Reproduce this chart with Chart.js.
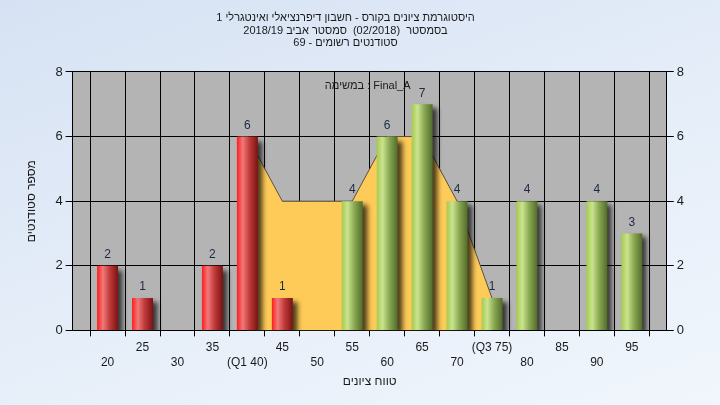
<!DOCTYPE html>
<html>
<head>
<meta charset="utf-8">
<script src="https://cdn.jsdelivr.net/npm/chart.js@4"></script>
<style>
  html, body { margin: 0; padding: 0; }
  body {
    width: 720px; height: 405px; overflow: hidden;
    background: linear-gradient(160deg, #d6e2f3 0%, #e6eef9 55%, #f1f6fc 100%);
  }
  canvas { display: block; }
</style>
</head>
<body>
<canvas id="chart" width="720" height="405"></canvas>
<script>
const categories = [20, 25, 30, 35, 40, 45, 50, 55, 60, 65, 70, 75, 80, 85, 90, 95];
const tickLabels = ['20', '25', '30', '35', '(Q1 40)', '45', '50', '55', '60', '65', '70', '(Q3 75)', '80', '85', '90', '95'];
const students = [2, 1, 0, 2, 6, 1, 0, 4, 6, 7, 4, 1, 4, 0, 4, 3];
const quartileBand = [null, null, null, null, 6, 4, 4, 4, 6, 6, 4, 1, null, null, null, null];
const passMark = 55;
const yTicks = [0, 2, 4, 6, 8];
const titleLines = [
  'היסטוגרמת ציונים בקורס - חשבון דיפרנציאלי ואינטגרלי 1',
  'בסמסטר  (02/2018)  סמסטר אביב 2018/19',
  'סטודנטים רשומים - 69'
];
const taskLabel = 'במשימה : Final_A';

const FONT = "'Liberation Sans', Arial, 'DejaVu Sans', sans-serif";
const BAR_PCT = 0.6;

// one empty slot each side so the axis runs 15..100
const labels = ['', ...tickLabels, ''];
const values = [null, ...students, null];
const band = [null, ...quartileBand, null];
const cats = [null, ...categories, null];

function barFill(c) {
  const chart = c.chart;
  const xs = chart.scales.x;
  const cat = cats[c.dataIndex];
  const pass = cat != null && cat >= passMark;
  const flat = pass ? '#9fc552' : '#e02020';
  if (!xs || !chart.chartArea || c.dataIndex == null) return flat;
  const cx = xs.getPixelForValue(c.dataIndex);
  const half = (xs.getPixelForValue(1) - xs.getPixelForValue(0)) * BAR_PCT / 2;
  const g = chart.ctx.createLinearGradient(cx - half, 0, cx + half, 0);
  if (pass) {
    g.addColorStop(0, '#a4cb4e');
    g.addColorStop(0.28, '#cbe38f');
    g.addColorStop(0.6, '#8aa952');
    g.addColorStop(1, '#526b2a');
  } else {
    g.addColorStop(0, '#ff1c1c');
    g.addColorStop(0.28, '#f07a7a');
    g.addColorStop(0.6, '#c03a3a');
    g.addColorStop(1, '#7a1212');
  }
  return g;
}

const plotBg = {
  id: 'plotBg',
  beforeDraw(chart) {
    const a = chart.chartArea, ctx = chart.ctx;
    ctx.save();
    ctx.fillStyle = '#b4b4b4';
    ctx.fillRect(a.left, a.top, a.right - a.left, a.bottom - a.top);
    ctx.restore();
  }
};

const barShadow = {
  id: 'barShadow',
  beforeDatasetDraw(chart, args) {
    if (args.meta.type !== 'bar') return;
    const ctx = chart.ctx;
    ctx.save();
    ctx.shadowColor = 'rgba(0,0,0,0.7)';
    ctx.shadowOffsetX = 5;
    ctx.shadowOffsetY = 4;
    ctx.shadowBlur = 5;
  },
  afterDatasetDraw(chart, args) {
    if (args.meta.type !== 'bar') return;
    chart.ctx.restore();
  }
};

const barValues = {
  id: 'barValues',
  afterDatasetsDraw(chart) {
    const ctx = chart.ctx;
    const meta = chart.getDatasetMeta(0);
    ctx.save();
    ctx.font = '12px ' + FONT;
    ctx.fillStyle = '#1c2a44';
    ctx.textAlign = 'center';
    ctx.textBaseline = 'middle';
    meta.data.forEach((el, i) => {
      const v = values[i];
      if (!v) return;
      ctx.fillText(String(v), el.x, el.y - 11);
    });
    const a = chart.chartArea;
    ctx.font = '11px ' + FONT;
    ctx.fillStyle = '#1a1a1a';
    ctx.fillText(taskLabel, (a.left + a.right) / 2 - 2, a.top + 14);
    ctx.restore();
  }
};

new Chart(document.getElementById('chart'), {
  data: {
    labels: labels,
    datasets: [
      {
        type: 'bar',
        label: 'students',
        data: values,
        backgroundColor: barFill,
        barPercentage: BAR_PCT,
        categoryPercentage: 1,
        order: 1
      },
      {
        type: 'line',
        label: 'Q1-Q3',
        data: band,
        fill: 'origin',
        backgroundColor: '#ffcb58',
        borderColor: '#5a5040',
        borderWidth: 1,
        pointRadius: 0,
        tension: 0,
        order: 2
      }
    ]
  },
  options: {
    responsive: false,
    animation: false,
    layout: { padding: { left: 4, right: 33, top: 0, bottom: 12 } },
    plugins: {
      legend: { display: false },
      tooltip: { enabled: false },
      title: {
        display: true,
        text: titleLines,
        color: '#1a1a1a',
        font: { family: FONT, size: 11, weight: 'normal', lineHeight: 1.18 },
        padding: { top: 11, bottom: 22 }
      }
    },
    scales: {
      x: {
        offset: false,
        grid: { color: '#000', lineWidth: 1, tickLength: 6, tickColor: '#000' },
        border: { color: '#000' },
        ticks: {
          autoSkip: false,
          maxRotation: 0,
          minRotation: 0,
          padding: 3,
          color: '#1a1a1a',
          font: { family: FONT, size: 12, lineHeight: 1.3 },
          callback: (v, i) => {
            const t = labels[i];
            if (!t) return '';
            return cats[i] % 10 === 0 ? ['', t] : [t, ''];
          }
        },
        title: {
          display: true,
          text: 'טווח ציונים',
          color: '#1a1a1a',
          font: { family: FONT, size: 12 },
          padding: { top: 1, bottom: 4 }
        }
      },
      y: {
        position: 'left',
        min: 0,
        max: 8,
        afterBuildTicks: s => { s.ticks = yTicks.map(v => ({ value: v })); },
        grid: { color: '#000', lineWidth: 1, tickLength: 7, tickColor: '#000' },
        border: { color: '#000' },
        ticks: { padding: 3, color: '#1a1a1a', font: { family: FONT, size: 13 } },
        title: {
          display: true,
          text: 'מספר סטודנטים',
          color: '#1a1a1a',
          font: { family: FONT, size: 12 },
          padding: { top: 20, bottom: 14 }
        }
      },
      y2: {
        position: 'right',
        min: 0,
        max: 8,
        afterBuildTicks: s => { s.ticks = yTicks.map(v => ({ value: v })); },
        grid: { drawOnChartArea: false, tickLength: 7, tickColor: '#000' },
        border: { color: '#000' },
        ticks: { padding: 3, color: '#1a1a1a', font: { family: FONT, size: 13 } }
      }
    }
  },
  plugins: [plotBg, barShadow, barValues]
});
</script>
</body>
</html>
